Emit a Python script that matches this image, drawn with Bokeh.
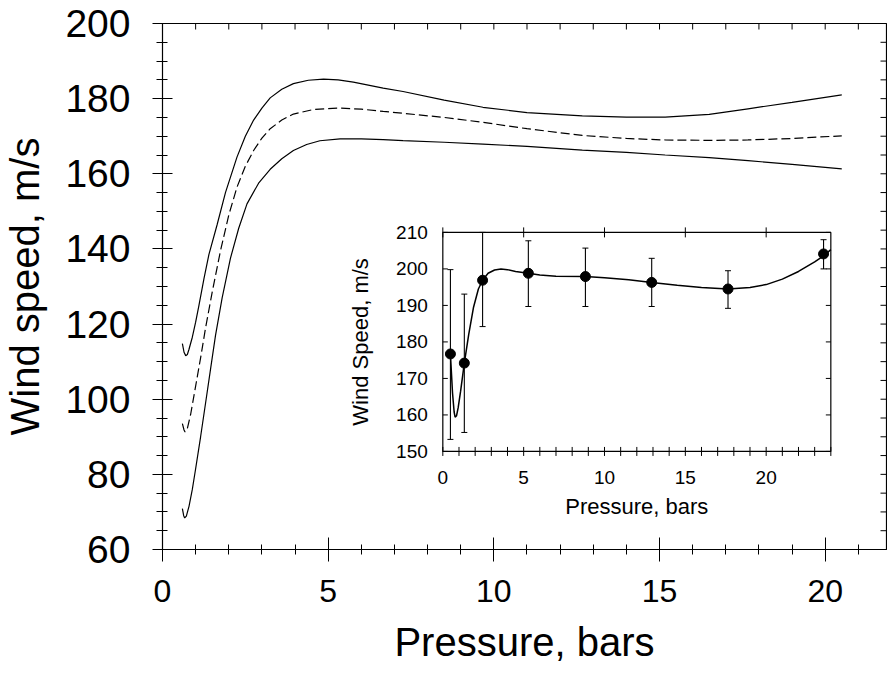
import numpy as np
from bokeh.plotting import figure
from bokeh.models import Range1d, SingleIntervalTicker
from bokeh.embed import file_html
from bokeh.resources import INLINE
from bokeh.core.properties import value

# ---------------- data ----------------
upper_x = [0.6, 0.65, 0.7, 0.75, 0.8, 0.9, 1.0, 1.1, 1.25, 1.4, 1.65, 1.9, 2.25, 2.5,
           2.75, 3.0, 3.25, 3.6, 3.95, 4.4, 4.86, 5.3, 5.76, 6.66, 7.26, 8.5, 9.67,
           11.0, 12.67, 14.0, 15.17, 16.5, 17.67, 19.0, 20.5]
upper_y = [114.8, 112.5, 111.6, 111.9, 113.3, 116.5, 120.5, 125.0, 132.0, 138.5, 146.5,
           155.0, 164.5, 170.0, 174.3, 177.5, 180.2, 182.5, 184.0, 184.9, 185.2, 185.0,
           184.4, 182.8, 181.9, 179.6, 177.7, 176.3, 175.4, 175.1, 175.1, 175.8, 177.3,
           179.0, 181.0]

mid_x = [0.6, 0.65, 0.68, 0.75, 0.85, 1.0, 1.15, 1.3, 1.5, 1.75, 2.0, 2.25, 2.5, 2.75,
         3.0, 3.25, 3.6, 3.95, 4.55, 5.36, 6.0, 6.66, 7.26, 8.5, 9.67, 11.0, 12.67,
         14.0, 15.17, 16.5, 17.67, 19.0, 20.5]
mid_y = [93.5, 91.8, 91.3, 92.2, 96.0, 103.5, 111.0, 119.0, 128.5, 139.5, 149.0, 156.5,
         162.0, 166.2, 169.5, 172.0, 174.3, 175.9, 177.1, 177.5, 177.2, 176.6, 176.1,
         175.0, 173.7, 172.0, 170.2, 169.4, 169.0, 168.9, 169.0, 169.4, 170.1]

lower_x = [0.6, 0.64, 0.67, 0.72, 0.8, 0.9, 1.0, 1.15, 1.3, 1.45, 1.6, 1.8, 2.05, 2.3,
           2.55, 2.9, 3.25, 3.6, 3.95, 4.35, 4.75, 5.36, 6.0, 6.66, 7.26, 8.5, 9.67,
           11.0, 12.67, 14.0, 15.17, 16.5, 17.67, 19.0, 20.5]
lower_y = [70.9, 69.0, 68.4, 68.9, 71.5, 76.0, 81.5, 90.0, 99.0, 108.0, 117.0, 127.0,
           137.5, 145.5, 152.0, 157.5, 161.2, 164.0, 166.2, 167.8, 168.8, 169.3, 169.3,
           169.1, 168.8, 168.4, 167.9, 167.3, 166.3, 165.7, 165.0, 164.3, 163.5, 162.5,
           161.3]

inset_px = [0.47, 1.33, 2.46, 5.29, 8.82, 12.92, 17.64, 23.55]
inset_py = [176.7, 174.2, 196.9, 198.8, 197.9, 196.3, 194.5, 204.1]
inset_lo = [153.3, 155.2, 184.2, 189.7, 189.7, 189.7, 189.2, 200.0]
inset_hi = [199.8, 193.1, 210.0, 207.7, 205.7, 202.9, 199.5, 208.0]

inset_cx = [0.47, 0.6, 0.7, 0.76, 0.85, 0.95, 1.1, 1.33, 1.6, 1.9, 2.2, 2.46, 2.8, 3.2,
            3.6, 4.0, 4.5, 5.29, 6.0, 7.0, 8.82, 10.0, 11.5, 12.92, 14.5, 16.0, 17.64,
            19.0, 20.0, 21.0, 22.0, 23.0, 23.55, 24.0]
inset_cy = [176.7, 166.0, 160.8, 159.4, 159.8, 162.0, 166.5, 174.2, 182.0, 189.5, 194.5,
            196.9, 198.8, 199.7, 200.0, 199.8, 199.3, 198.8, 198.3, 198.0, 197.9, 197.6,
            197.0, 196.3, 195.5, 194.9, 194.5, 194.9, 195.7, 197.2, 199.3, 201.9, 203.6,
            205.3]

main_xlim = [0, 21.85]
main_ylim = [60, 200]
main_top_ticks = list(range(0, 22))
main_right_ticks = list(range(60, 201, 5))
inset_xlim = [0, 24]
inset_ylim = [150, 210]
inset_xtick_labels = [0, 5, 10, 15, 20]
inset_ytick_labels = [150, 160, 170, 180, 190, 200, 210]

FONT = "Liberation Sans"

# inset placement, expressed in main-data coordinates
ins_left, ins_right = 8.46, 20.17
ins_bottom, ins_top = 86.1, 144.4

p = figure(width=887, height=666, x_range=Range1d(*main_xlim), y_range=Range1d(*main_ylim),
           output_backend="svg", toolbar_location=None,
           min_border_left=158, min_border_right=1, min_border_top=23, min_border_bottom=117,
           outline_line_color="black", outline_line_width=1.2,
           background_fill_color="white", border_fill_color="white")
p.grid.visible = False

xa = p.xaxis[0]
xa.ticker = SingleIntervalTicker(interval=5, num_minor_ticks=5)
xa.major_tick_in = 12; xa.major_tick_out = 12
xa.minor_tick_in = 5; xa.minor_tick_out = 5
xa.major_label_text_font = FONT
xa.major_label_text_font_size = "32px"
xa.major_label_text_color = "black"
xa.major_label_standoff = 18
xa.axis_label = "Pressure, bars"
xa.axis_label_text_font = FONT
xa.axis_label_text_font_size = "40px"
xa.axis_label_text_font_style = "normal"
xa.axis_label_text_color = "black"
xa.axis_label_standoff = 15

ya = p.yaxis[0]
ya.ticker = SingleIntervalTicker(interval=20, num_minor_ticks=4)
ya.major_tick_in = 10; ya.major_tick_out = 10
ya.minor_tick_in = 5; ya.minor_tick_out = 6
ya.major_label_text_font = FONT
ya.major_label_text_font_size = "39px"
ya.major_label_text_color = "black"
ya.major_label_standoff = 22
ya.axis_label = "Wind speed, m/s"
ya.axis_label_text_font = FONT
ya.axis_label_text_font_size = "40px"
ya.axis_label_text_font_style = "normal"
ya.axis_label_text_color = "black"
ya.axis_label_standoff = 15

for ax in (xa, ya):
    ax.axis_line_color = "black"
    ax.major_tick_line_color = "black"
    ax.minor_tick_line_color = "black"

# inward ticks on the top and right edges of the main frame
p.ray(x=main_top_ticks, y=[main_ylim[1]] * len(main_top_ticks), length=6, angle=-np.pi / 2,
      length_units="screen", line_color="black", line_width=1)
p.ray(x=[main_xlim[1]] * len(main_right_ticks), y=main_right_ticks, length=6, angle=np.pi,
      length_units="screen", line_color="black", line_width=1)

# main curves
p.line(upper_x, upper_y, line_color="black", line_width=1.2)
p.line(mid_x, mid_y, line_color="black", line_width=1.2, line_dash="9 4")
p.line(lower_x, lower_y, line_color="black", line_width=1.2)

# ---------------- inset, drawn on extra ranges ----------------
kx = (inset_xlim[1] - inset_xlim[0]) / (ins_right - ins_left)
ky = (inset_ylim[1] - inset_ylim[0]) / (ins_top - ins_bottom)
p.extra_x_ranges = {"ix": Range1d(inset_xlim[0] + (main_xlim[0] - ins_left) * kx,
                                  inset_xlim[0] + (main_xlim[1] - ins_left) * kx)}
p.extra_y_ranges = {"iy": Range1d(inset_ylim[0] + (main_ylim[0] - ins_bottom) * ky,
                                  inset_ylim[0] + (main_ylim[1] - ins_bottom) * ky)}
R = dict(x_range_name="ix", y_range_name="iy")

p.quad(left=[inset_xlim[0]], right=[inset_xlim[1]], bottom=[inset_ylim[0]], top=[inset_ylim[1]],
       fill_color="white", line_color="black", line_width=1.2, **R)

# inset ticks
bt = list(range(inset_xlim[0], inset_xlim[1] + 1))
p.scatter(bt, [inset_ylim[0]] * len(bt), marker="dash", angle=np.pi / 2, size=9,
          line_color="black", line_width=1, **R)
p.scatter(inset_xtick_labels, [inset_ylim[1]] * len(inset_xtick_labels), marker="dash",
          angle=np.pi / 2, size=10, line_color="black", line_width=1, **R)
p.ray(x=[inset_xlim[0]] * len(inset_ytick_labels), y=inset_ytick_labels, length=5,
      angle=0, length_units="screen", line_color="black", line_width=1, **R)
p.ray(x=[inset_xlim[1]] * len(inset_ytick_labels), y=inset_ytick_labels, length=5,
      angle=np.pi, length_units="screen", line_color="black", line_width=1, **R)

# inset tick labels and axis labels
p.text(x=inset_xtick_labels, y=[inset_ylim[0]] * len(inset_xtick_labels),
       text=[str(v) for v in inset_xtick_labels], text_align="center", text_baseline="middle",
       y_offset=26, text_font=value(FONT), text_font_size="19px", text_color="black", **R)
p.text(x=[inset_xlim[0]] * len(inset_ytick_labels), y=inset_ytick_labels,
       text=[str(v) for v in inset_ytick_labels], text_align="right", text_baseline="middle",
       x_offset=-15, text_font=value(FONT), text_font_size="19px", text_color="black", **R)
p.text(x=[(inset_xlim[0] + inset_xlim[1]) / 2], y=[inset_ylim[0]], text=["Pressure, bars"],
       text_align="center", text_baseline="middle", y_offset=55,
       text_font=value(FONT), text_font_size="22px", text_color="black", **R)
p.text(x=[inset_xlim[0]], y=[(inset_ylim[0] + inset_ylim[1]) / 2], text=["Wind Speed, m/s"],
       text_align="center", text_baseline="bottom", angle=np.pi / 2, x_offset=-70,
       text_font=value(FONT), text_font_size="22px", text_color="black", **R)

# inset data
p.line(inset_cx, inset_cy, line_color="black", line_width=1.5, **R)
p.segment(x0=inset_px, y0=inset_lo, x1=inset_px, y1=inset_hi, line_color="black",
          line_width=1.1, **R)
p.scatter(inset_px + inset_px, inset_lo + inset_hi, marker="dash", size=6,
          line_color="black", line_width=1, **R)
p.scatter(inset_px, inset_py, marker="circle", size=10, fill_color="black",
          line_color="black", **R)

open("out.html", "w").write(file_html(p, INLINE))
